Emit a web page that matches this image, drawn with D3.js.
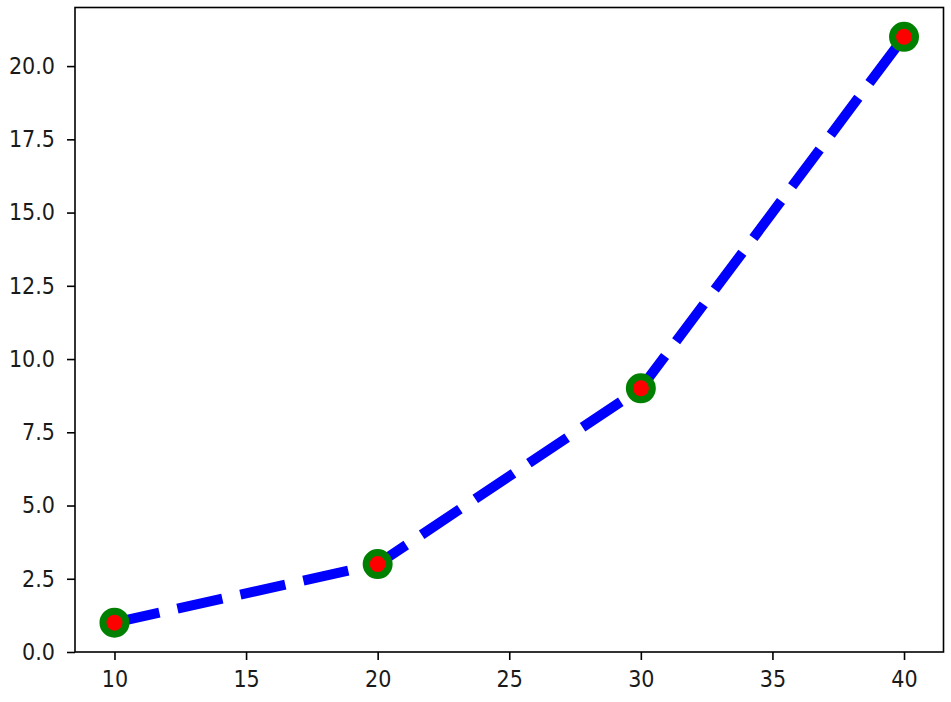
<!DOCTYPE html>
<html>
<head>
<meta charset="utf-8">
<script src="https://cdn.jsdelivr.net/npm/d3@7"></script>
<style>
  html, body { margin: 0; padding: 0; background: #fff; }
  svg { display: block; }
  .tick text { font-family: "DejaVu Sans Condensed", "DejaVu Sans", sans-serif; font-stretch: condensed; font-size: 23px; fill: #1a1a1a; }
</style>
</head>
<body>
<svg id="chart" width="951" height="702"></svg>
<script>
const xValues = [10, 20, 30, 40];
const yValues = [1, 3, 9, 21];
const xTicks = [10, 15, 20, 25, 30, 35, 40];
const yTicks = [0, 2.5, 5, 7.5, 10, 12.5, 15, 17.5, 20];

const W = 951, H = 702;
const margin = { left: 75, top: 7.5, right: 7.5, bottom: 50 };
const svg = d3.select("#chart");

const x = d3.scaleLinear().domain([8.5, 41.5]).range([margin.left, W - margin.right]);
const y = d3.scaleLinear().domain([0, 22]).range([H - margin.bottom, margin.top]);

const data = xValues.map((v, i) => ({ x: v, y: yValues[i] }));

const gx = svg.append("g")
  .attr("transform", `translate(0,${H - margin.bottom})`)
  .call(d3.axisBottom(x).tickValues(xTicks).tickFormat(d3.format("d")).tickSizeOuter(0).tickSize(8).tickPadding(11));
const gy = svg.append("g")
  .attr("transform", `translate(${margin.left},0)`)
  .call(d3.axisLeft(y).tickValues(yTicks).tickFormat(d3.format(".1f")).tickSizeOuter(0).tickSize(8).tickPadding(12));
[gx, gy].forEach(g => {
  g.select(".domain").remove();
  g.selectAll(".tick line").attr("stroke", "#000").attr("stroke-width", 1.6);
});

const line = d3.line().x(d => x(d.x)).y(d => y(d.y));
svg.append("path")
  .datum(data)
  .attr("d", line)
  .attr("fill", "none")
  .attr("stroke", "#0000ff")
  .attr("stroke-width", 10)
  .attr("stroke-linecap", "butt")
  .attr("stroke-dasharray", "46,18.5");

svg.selectAll("circle.pt")
  .data(data)
  .enter().append("circle")
  .attr("class", "pt")
  .attr("cx", d => x(d.x))
  .attr("cy", d => y(d.y))
  .attr("r", 11.5)
  .attr("fill", "#ff0000")
  .attr("stroke", "#008000")
  .attr("stroke-width", 7);

svg.append("rect")
  .attr("x", margin.left)
  .attr("y", margin.top)
  .attr("width", W - margin.right - margin.left)
  .attr("height", H - margin.bottom - margin.top)
  .attr("fill", "none")
  .attr("stroke", "#000")
  .attr("stroke-width", 1.6);
</script>
</body>
</html>
